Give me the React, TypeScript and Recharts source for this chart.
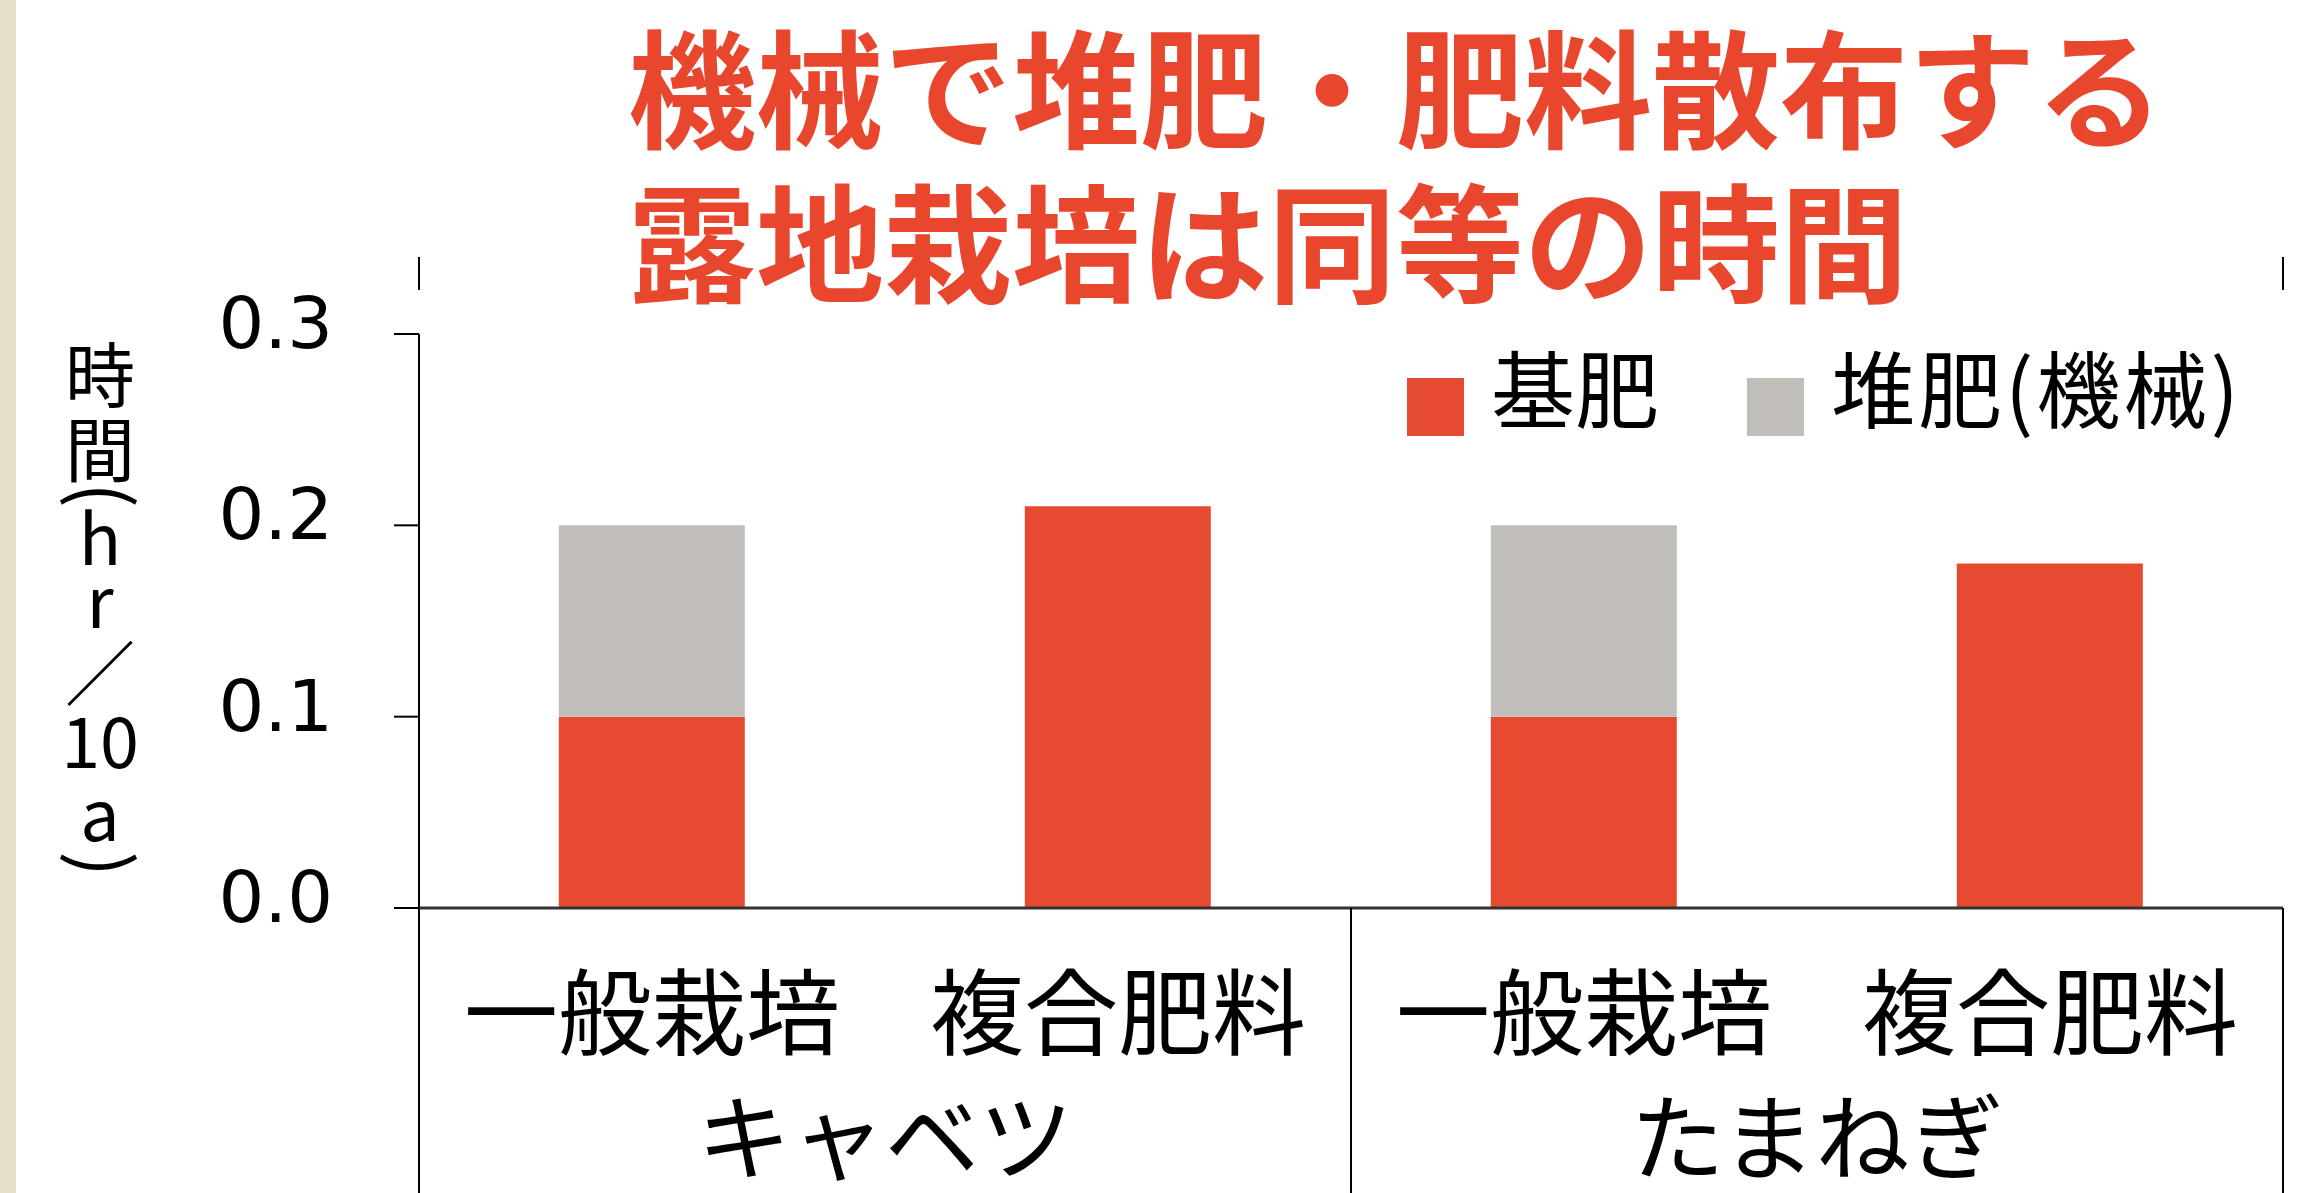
import React from "react";
import { BarChart, Bar, XAxis, YAxis, Legend } from "recharts";

const categories = ["一般栽培", "複合肥料", "一般栽培", "複合肥料"];
const crops = ["キャベツ", "キャベツ", "たまねぎ", "たまねぎ"];
const baseFertilizer = [0.1, 0.21, 0.1, 0.18];
const compostMachine = [0.1, 0, 0.1, 0];
const yTicks = [0, 0.1, 0.2, 0.3];
const titleLines = ["機械で堆肥・肥料散布する", "露地栽培は同等の時間"];
const yLabelParts = ["時", "間", "(", "h", "r", "／", "10", "a", ")"];

const RED = "#E64A31";
const GRAY = "#C1BDB9";
const JP = '"Noto Sans CJK JP", "Noto Sans", sans-serif';

const data = categories.map((name, i) => ({
  name,
  crop: crops[i],
  base: baseFertilizer[i],
  compost: compostMachine[i],
}));

const YTick = (props: any) => {
  const { x, y, payload } = props;
  return (
    <text x={x} y={y} dy={14} textAnchor="end" fontSize={72} fontFamily='"DejaVu Sans", sans-serif' fill="#000">
      {Number(payload.value).toFixed(1)}
    </text>
  );
};

const CategoryTick = (props: any) => {
  const { x, y, payload, index } = props;
  const half = payload.offset ?? 0;
  const startsGroup = index === 0 || crops[index] !== crops[index - 1];
  const isLast = index === categories.length - 1;
  return (
    <g>
      <text x={x} y={y + 140} textAnchor="middle" fontSize={94} fontFamily={JP} fill="#000">
        {payload.value}
      </text>
      {startsGroup && (
        <>
          <line x1={x - half} x2={x - half} y1={y} y2={y + 290} stroke="#000" strokeWidth={2} />
          <text x={x + half} y={y + 265} textAnchor="middle" fontSize={94} fontFamily={JP} fill="#000">
            {crops[index]}
          </text>
        </>
      )}
      {isLast && <line x1={x + half} x2={x + half} y1={y} y2={y + 290} stroke="#000" strokeWidth={2} />}
    </g>
  );
};

const LegendContent = (props: any) => {
  const items = props.payload || [];
  const itemX = [57, 397];
  return (
    <svg width={957} height={120} style={{ display: "block" }}>
      {items.map((entry: any, i: number) => (
        <g key={i}>
          <rect x={itemX[i]} y={38} width={57} height={58} fill={entry.color} />
          <text x={itemX[i] + 84} y={82} fontSize={84} fontFamily={JP} fill="#000" letterSpacing={i === 1 ? 3 : 0}>
            {entry.value}
          </text>
        </g>
      ))}
    </svg>
  );
};

// vertical y-axis label: one glyph per row
const labelBaselines = [402, 477, 495, 565, 628, 700, 768, 841, 864];

export default function App() {
  return (
    <div
      style={{
        position: "absolute",
        left: 0,
        top: 0,
        width: 2307,
        height: 1193,
        background: "#fff",
        overflow: "hidden",
      }}
    >
      <BarChart
        width={2307}
        height={1193}
        data={data}
        margin={{ top: 334, right: 24, bottom: 0, left: 0 }}
        barCategoryGap="30%"
      >
        <YAxis
          width={419}
          domain={[0, 0.3]}
          ticks={yTicks}
          interval={0}
          tickSize={25}
          tickMargin={61}
          axisLine={{ stroke: "#000", strokeWidth: 2 }}
          tickLine={{ stroke: "#000", strokeWidth: 2 }}
          tick={<YTick />}
        />
        <XAxis
          dataKey="name"
          height={285}
          interval={0}
          tickSize={0}
          tickMargin={0}
          tickLine={false}
          axisLine={{ stroke: "#333", strokeWidth: 3 }}
          tick={<CategoryTick />}
        />
        <Legend
          layout="horizontal"
          verticalAlign="middle"
          align="center"
          content={<LegendContent />}
          wrapperStyle={{ top: 340, left: 1350, width: 957, height: 120 }}
        />
        <Bar dataKey="base" name="基肥" stackId="a" fill={RED} isAnimationActive={false} />
        <Bar dataKey="compost" name="堆肥(機械)" stackId="a" fill={GRAY} isAnimationActive={false} />
      </BarChart>
      <svg
        width={2307}
        height={1193}
        style={{ position: "absolute", left: 0, top: 0, pointerEvents: "none" }}
      >
        <rect x={0} y={0} width={16} height={1193} fill="#E5DFC6" />
        <line x1={419} x2={419} y1={257} y2={290} stroke="#000" strokeWidth={2} />
        <line x1={2283} x2={2283} y1={257} y2={290} stroke="#000" strokeWidth={2} />
        {titleLines.map((t, i) => (
          <text key={i} x={628} y={139 + i * 154} fontSize={128} fontWeight={700} fontFamily={JP} fill="#E8472E">
            {t}
          </text>
        ))}
        {yLabelParts.map((c, i) => {
          const isParen = c === "(" || c === ")";
          const yy = labelBaselines[i];
          return isParen ? (
            <text
              key={i}
              x={108}
              y={yy}
              textAnchor="middle"
              dominantBaseline="central"
              fontSize={76}
              fontFamily={JP}
              fill="#000"
              transform={`rotate(90 108 ${yy})`}
            >
              {c}
            </text>
          ) : (
            <text key={i} x={100} y={yy} textAnchor="middle" fontSize={70} fontFamily={JP} fill="#000">
              {c}
            </text>
          );
        })}
      </svg>
    </div>
  );
}
